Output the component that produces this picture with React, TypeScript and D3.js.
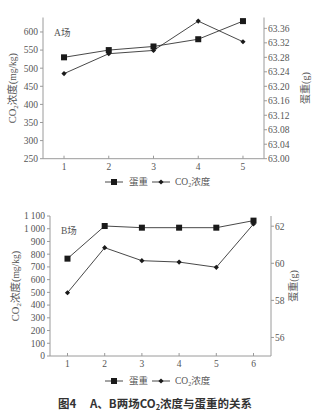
import React from "react";
import * as d3 from "d3";

const catsA = ["1", "2", "3", "4", "5"];
const eggA = [63.28, 63.3, 63.31, 63.33, 63.38];
const co2A = [485, 540, 549, 630, 573];
const leftTicksA = [250, 300, 350, 400, 450, 500, 550, 600];
const rightTicksA = [63.0, 63.04, 63.08, 63.12, 63.16, 63.2, 63.24, 63.28, 63.32, 63.36];

const catsB = ["1", "2", "3", "4", "5", "6"];
const eggB = [60.25, 62.01, 61.92, 61.92, 61.92, 62.3];
const co2B = [497, 851, 749, 738, 697, 1037];
const leftTicksB = [0, 100, 200, 300, 400, 500, 600, 700, 800, 900, 1000, 1100];
const rightTicksB = [56, 58, 60, 62];

const SERIF = "'Liberation Serif', 'DejaVu Serif', 'Noto Sans CJK SC', serif";
const CJK = "'Noto Sans CJK SC', sans-serif";
const AXIS = "#9a9a9a";
const TXT = "#555";
const LINE = "#333";

function fmtThousands(v: number) {
  const s = String(v);
  if (v >= 1000) return s.slice(0, s.length - 3) + "\u2009" + s.slice(-3);
  return s;
}

type PanelProps = {
  cats: string[];
  egg: number[];
  co2: number[];
  leftDomain: [number, number];
  rightDomain: [number, number];
  leftTicks: number[];
  rightTicks: number[];
  rightFmt: (v: number) => string;
  leftFmt: (v: number) => string;
  x0: number;
  x1: number;
  top: number;
  bottom: number;
  axisTop: number;
  title: string;
  legendY: number;
  leftLabelX: number;
  rightLabelX: number;
};

function Panel(p: PanelProps) {
  const x = d3.scalePoint<string>().domain(p.cats).range([p.x0, p.x1]).padding(0.47);
  const yl = d3.scaleLinear().domain(p.leftDomain).range([p.bottom, p.top]);
  const yr = d3.scaleLinear().domain(p.rightDomain).range([p.bottom, p.top]);
  const lineEgg = d3
    .line<number>()
    .x((_, i) => x(p.cats[i]) as number)
    .y((d) => yr(d));
  const lineCo2 = d3
    .line<number>()
    .x((_, i) => x(p.cats[i]) as number)
    .y((d) => yl(d));
  const midY = (p.top + p.bottom) / 2;
  const sq = 6;
  const dm = 2.6;
  const diamond = (cx: number, cy: number) =>
    `M${cx},${cy - dm}L${cx + dm},${cy}L${cx},${cy + dm}L${cx - dm},${cy}Z`;
  const lg = p.legendY;
  return (
    <g>
      {/* axes */}
      <line x1={p.x0} x2={p.x0} y1={p.bottom} y2={p.axisTop} stroke={AXIS} strokeWidth={1} />
      <line x1={p.x1} x2={p.x1} y1={p.bottom} y2={p.axisTop} stroke={AXIS} strokeWidth={1} />
      <line x1={p.x0} x2={p.x1} y1={p.bottom} y2={p.bottom} stroke={AXIS} strokeWidth={1} />
      {p.leftTicks.map((t) => (
        <g key={"l" + t}>
          <line x1={p.x0 - 3} x2={p.x0} y1={yl(t)} y2={yl(t)} stroke={AXIS} />
          <text x={p.x0 - 5} y={yl(t)} dy="0.35em" textAnchor="end" fontSize={9.5} fontFamily={SERIF} fill={TXT}>
            {p.leftFmt(t)}
          </text>
        </g>
      ))}
      {p.rightTicks.map((t) => (
        <g key={"r" + t}>
          <line x1={p.x1} x2={p.x1 + 3} y1={yr(t)} y2={yr(t)} stroke={AXIS} />
          <text x={p.x1 + 4} y={yr(t)} dy="0.35em" textAnchor="start" fontSize={9.5} fontFamily={SERIF} fill={TXT}>
            {p.rightFmt(t)}
          </text>
        </g>
      ))}
      {p.cats.map((c) => (
        <g key={"x" + c}>
          <line x1={x(c)} x2={x(c)} y1={p.bottom} y2={p.bottom - 3} stroke={AXIS} />
          <text x={x(c)} y={p.bottom + 11} textAnchor="middle" fontSize={9.5} fontFamily={SERIF} fill={TXT}>
            {c}
          </text>
        </g>
      ))}
      {/* axis labels */}
      <text
        transform={`translate(${p.leftLabelX},${midY}) rotate(-90)`}
        textAnchor="middle"
        dy="0.35em"
        fontSize={10.5}
        fontFamily={SERIF}
        fill={TXT}
      >
        CO<tspan fontSize={7} dy="2">2</tspan>
        <tspan dy="-2" fontFamily={CJK}>浓度</tspan>
        <tspan>(</tspan>
        <tspan fontSize={9.5}>mg/kg</tspan>
        <tspan>)</tspan>
      </text>
      <text
        transform={`translate(${p.rightLabelX},${midY}) rotate(-90)`}
        textAnchor="middle"
        dy="0.35em"
        fontSize={10}
        fontFamily={SERIF}
        fill={TXT}
      >
        <tspan fontFamily={CJK}>蛋重</tspan>(g)
      </text>
      <text x={p.x0 + 11} y={p.top + 18} fontSize={9.5} fontFamily={SERIF} fill={TXT}>
        {p.title[0]}
        <tspan fontFamily={CJK}>{p.title.slice(1)}</tspan>
      </text>
      {/* series */}
      <path d={lineEgg(p.egg) || ""} fill="none" stroke={LINE} strokeWidth={0.9} />
      <path d={lineCo2(p.co2) || ""} fill="none" stroke={LINE} strokeWidth={0.9} />
      {p.egg.map((v, i) => (
        <rect
          key={"e" + i}
          x={(x(p.cats[i]) as number) - sq / 2}
          y={yr(v) - sq / 2}
          width={sq}
          height={sq}
          fill="#1a1a1a"
        />
      ))}
      {p.co2.map((v, i) => (
        <path key={"c" + i} d={diamond(x(p.cats[i]) as number, yl(v))} fill="#1a1a1a" />
      ))}
      {/* legend */}
      <line x1={105} x2={123} y1={lg} y2={lg} stroke={LINE} strokeWidth={0.9} />
      <rect x={114 - sq / 2} y={lg - sq / 2} width={sq} height={sq} fill="#1a1a1a" />
      <text x={129} y={lg} dy="0.35em" fontSize={9.5} fontFamily={CJK} fill={TXT}>
        蛋重
      </text>
      <line x1={152} x2={170} y1={lg} y2={lg} stroke={LINE} strokeWidth={0.9} />
      <path d={diamond(161, lg)} fill="#1a1a1a" />
      <text x={175} y={lg} dy="0.35em" fontSize={9.5} fontFamily={SERIF} fill={TXT}>
        CO<tspan fontSize={6} dy="2">2</tspan>
        <tspan dy="-2" fontFamily={CJK}>浓度</tspan>
      </text>
    </g>
  );
}

export default function App() {
  return (
    <svg width={333} height={418} style={{ position: "absolute", left: 0, top: 0, background: "#fff" }}>
      <rect width={333} height={418} fill="#fff" />
      <Panel
        cats={catsA}
        egg={eggA}
        co2={co2A}
        leftDomain={[250, 640]}
        rightDomain={[63.0, 63.39]}
        leftTicks={leftTicksA}
        rightTicks={rightTicksA}
        leftFmt={(v) => String(v)}
        rightFmt={(v) => v.toFixed(2)}
        x0={43}
        x1={264}
        top={17.5}
        bottom={158.7}
        axisTop={17.5}
        title="A场"
        legendY={182}
        leftLabelX={12}
        rightLabelX={305}
      />
      <Panel
        cats={catsB}
        egg={eggB}
        co2={co2B}
        leftDomain={[0, 1100]}
        rightDomain={[55, 62.55]}
        leftTicks={leftTicksB}
        rightTicks={rightTicksB}
        leftFmt={fmtThousands}
        rightFmt={(v) => String(v)}
        x0={50}
        x1={271}
        top={216}
        bottom={356}
        axisTop={216}
        title="B场"
        legendY={381}
        leftLabelX={15}
        rightLabelX={293}
      />
      <text x={58} y={408} fontSize={11.5} fontFamily={CJK} fontWeight={700} fill="#333">
        图4
      </text>
      <text x={90} y={408} fontSize={11.5} fontFamily={CJK} fontWeight={700} fill="#333">
        A、B两场CO<tspan fontSize={7.5} dy="2">2</tspan>
        <tspan dy="-2">浓度与蛋重的关系</tspan>
      </text>
    </svg>
  );
}
